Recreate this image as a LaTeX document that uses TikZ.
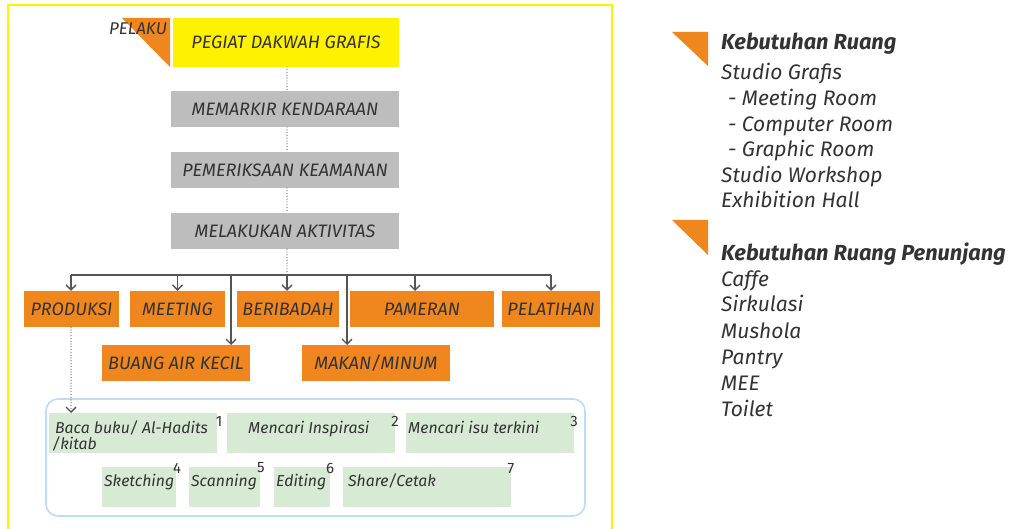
\documentclass[tikz,border=0pt]{standalone}
\usepackage{fontspec}
\setmainfont{Fira Sans}
\usetikzlibrary{arrows.meta}
\definecolor{txt}{HTML}{333333}
\definecolor{frameyellow}{HTML}{FFF200}
\definecolor{headyellow}{HTML}{FFF200}
\definecolor{boxgray}{HTML}{BDBDBD}
\definecolor{boxorange}{HTML}{F0861E}
\definecolor{boxgreen}{HTML}{D7EAD4}
\definecolor{groupblue}{HTML}{BEDDF2}
\definecolor{linegray}{HTML}{555555}
\definecolor{dotgray}{HTML}{808080}
\begin{document}
\begin{tikzpicture}[x=1pt,y=-1pt,
  box/.style={inner sep=0pt, minimum height=36, text=txt,
    font=\fontsize{18}{21}\selectfont\itshape},
  graybox/.style={box, fill=boxgray, minimum width=228},
  orangebox/.style={box, fill=boxorange},
  greenbox/.style={fill=boxgreen, inner sep=0pt},
  gtext/.style={inner sep=0pt, text=txt, font=\fontsize{15.8}{18}\selectfont\itshape},
  num/.style={inner sep=0pt, text=txt, font=\fontsize{15}{17}\selectfont},
  arr/.style={draw=linegray, line width=1.3pt,
    -{Straight Barb[length=5pt,width=10pt,line width=1.3pt]}},
  bus/.style={draw=linegray, line width=1.3pt},
  dots/.style={draw=dotgray, line width=1.4pt, line cap=round,
    dash pattern=on 0pt off 2.8pt},
  tri/.style={fill=boxorange},
  side/.style={inner sep=0pt, anchor=base west, text=txt,
    font=\fontsize{21}{23}\selectfont\itshape},
  sidehead/.style={side, font=\fontsize{21.8}{24}\selectfont\bfseries\itshape}]
\useasboundingbox (0,0) rectangle (1015,529);
\fill[white] (0,0) rectangle (1015,529);

% open yellow frame around the flow
\draw[frameyellow, line width=2pt] (8,529) -- (8,5) -- (612,5) -- (612,529);

% actor
\fill[tri] (122,18) -- (170,18) -- (170,67) -- cycle;
\node[inner sep=0pt, anchor=base west, text=txt,
  font=\fontsize{17}{19}\selectfont\itshape] (pelaku) at (109,35) {PELAKU};
\node[box, fill=headyellow, minimum width=226, minimum height=49] (pegiat) at (286,42.5) {PEGIAT DAKWAH GRAFIS};

% sequence of steps
\node[graybox] (parkir) at (285,109) {MEMARKIR KENDARAAN};
\node[graybox] (periksa) at (285,170) {PEMERIKSAAN KEAMANAN};
\node[graybox] (aktiv) at (285,231) {MELAKUKAN AKTIVITAS};

\coordinate (c1) at (287,67);
\coordinate (c2) at (287,91);
\coordinate (c3) at (287,127);
\coordinate (c4) at (287,152);
\coordinate (c5) at (287,188);
\coordinate (c6) at (287,213);
\draw[dots] (c1) -- (c2);
\draw[dots] (c3) -- (c4);
\draw[dots] (c5) -- (c6);

% activities
\node[orangebox, minimum width=95] (produksi) at (71.5,309) {PRODUKSI};
\node[orangebox, minimum width=95] (meeting) at (177.5,309) {MEETING};
\node[orangebox, minimum width=102] (ibadah) at (288,309) {BERIBADAH};
\node[orangebox, minimum width=144] (pameran) at (422,309) {PAMERAN};
\node[orangebox, minimum width=98] (pelatihan) at (551,309) {PELATIHAN};
\node[orangebox, minimum width=148] (bak) at (176,363) {BUANG AIR KECIL};
\node[orangebox, minimum width=148] (makan) at (376,363) {MAKAN/MINUM};

\coordinate (busL) at (71,275);
\coordinate (busR) at (551,275);
\coordinate (busM) at (287,275);
\coordinate (bakTip) at (231,345);
\coordinate (makanTip) at (347,345);
\coordinate (pamTop) at (415,291);

\draw[dots] (aktiv.south -| busM) -- (busM);
\draw[bus] (busL) -- (busR);
\draw[arr] (busL) -- (produksi.north -| busL);
\draw[arr] (meeting.north |- busL) -- (meeting.north);
\draw[arr] (busM) -- (ibadah.north -| busM);
\draw[arr] (pamTop |- busL) -- (pamTop);
\draw[arr] (busR) -- (pelatihan.north -| busR);
\draw[arr] (bakTip |- busL) -- (bakTip);
\draw[arr] (makanTip |- busL) -- (makanTip);

% production sub-activities
\draw[groupblue, line width=1.6pt, rounded corners=12pt] (46,399) rectangle (585,516);

\node[greenbox, minimum width=168, minimum height=40, anchor=north west] (baca) at (49,413) {};
\node[greenbox, minimum width=168, minimum height=40, anchor=north west] (inspirasi) at (227,413) {};
\node[greenbox, minimum width=168, minimum height=40, anchor=north west] (isu) at (406,413) {};
\node[greenbox, minimum width=74, minimum height=40, anchor=north west] (sketch) at (102,467) {};
\node[greenbox, minimum width=71, minimum height=40, anchor=north west] (scan) at (189,467) {};
\node[greenbox, minimum width=56, minimum height=40, anchor=north west] (edit) at (274,467) {};
\node[greenbox, minimum width=168, minimum height=40, anchor=north west] (cetak) at (343,467) {};

\draw[dots, arr, dash pattern=on 0pt off 2.8pt, line width=1.2pt] (produksi.south -| busL) -- (baca.north -| busL);

\node[gtext, anchor=base west] (tbaca) at (55,433) {Baca buku/ Al-Hadits};
\node[gtext, anchor=base west] (tkitab) at (52,449) {/kitab};
\node[gtext, anchor=base west] (tinsp) at (248,433) {Mencari Inspirasi};
\node[gtext, anchor=base west] (tisu) at (408,433) {Mencari isu terkini};
\node[gtext, anchor=base west] (tsketch) at (104,486) {Sketching};
\node[gtext, anchor=base west] (tscan) at (191,486) {Scanning};
\node[gtext, anchor=base west] (tedit) at (276,486) {Editing};
\node[gtext, anchor=base west] (tcetak) at (348,486) {Share/Cetak};

\node[num] (n1) at (219,421) {1};
\node[num] (n2) at (395,421) {2};
\node[num] (n3) at (574,421) {3};
\node[num] (n4) at (177,468) {4};
\node[num] (n5) at (261,468) {5};
\node[num] (n6) at (330,468) {6};
\node[num] (n7) at (511,469) {7};

% space requirements
\fill[tri] (672,32) -- (708,32) -- (708,66) -- cycle;
\node[sidehead] (k1) at (721,50) {Kebutuhan Ruang};
\node[side] (s1) at (721,80) {Studio Grafis};
\node[side] (s2) at (728,106) {- Meeting Room};
\node[side] (s3) at (728,132) {- Computer Room};
\node[side] (s4) at (728,157) {- Graphic Room};
\node[side] (s5) at (721,183) {Studio Workshop};
\node[side] (s6) at (721,208) {Exhibition Hall};

\fill[tri] (672,220) -- (708,220) -- (708,255) -- cycle;
\node[sidehead] (k2) at (721,261) {Kebutuhan Ruang Penunjang};
\node[side] (p1) at (721,287) {Caffe};
\node[side] (p2) at (721,312) {Sirkulasi};
\node[side] (p3) at (721,339) {Mushola};
\node[side] (p4) at (721,365) {Pantry};
\node[side] (p5) at (721,391) {MEE};
\node[side] (p6) at (721,416) {Toilet};
\end{tikzpicture}
\end{document}
